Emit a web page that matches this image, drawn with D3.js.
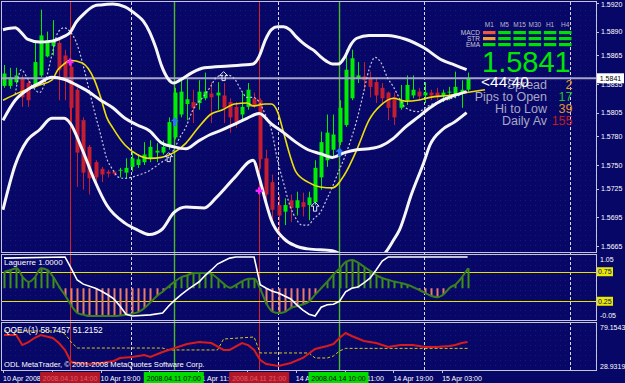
<!DOCTYPE html>
<html>
<head>
<meta charset="utf-8">
<script src="https://cdn.jsdelivr.net/npm/d3@7"></script>
<style>
html, body { margin: 0; padding: 0; background: #070768; overflow: hidden; }
svg { display: block; }
text { font-family: "Liberation Sans", Arial, sans-serif; }
</style>
</head>
<body>
<svg id="chart" width="625" height="383"></svg>
<script>
// GBPUSD-like H1 bars, 10 Apr 2008 03:00 .. 15 Apr 2008 07:00
const opens = [1.5833,1.5833,1.5837,1.5841,1.5836,1.5834,1.5844,1.5864,1.5875,1.5878,1.5865,1.5853,1.5829,1.5797,1.5769,1.5753,1.5746,1.5743,1.5743,1.5744,1.5742,1.5748,1.5750,1.5753,1.5757,1.5763,1.5763,1.5771,1.5779,1.5803,1.5814,1.5816,1.5815,1.5820,1.5825,1.5823,1.5823,1.5816,1.5811,1.5803,1.5811,1.5820,1.5818,1.5757,1.5732,1.5708,1.5701,1.5713,1.5705,1.5711,1.5708,1.5711,1.5737,1.5755,1.5766,1.5774,1.5792,1.5820,1.5841,1.5843,1.5841,1.5837,1.5831,1.5826,1.5821,1.5810,1.5818,1.5823,1.5827,1.5823,1.5826,1.5826,1.5823,1.5826,1.5823,1.5826,1.5829];
const highs = [1.5855,1.5852,1.5852,1.5844,1.5841,1.5878,1.5913,1.5890,1.5902,1.5883,1.5871,1.5860,1.5831,1.5800,1.5771,1.5755,1.5748,1.5745,1.5744,1.5747,1.5757,1.5764,1.5761,1.5774,1.5776,1.5773,1.5776,1.5800,1.5831,1.5842,1.5841,1.5829,1.5839,1.5847,1.5837,1.5837,1.5836,1.5820,1.5816,1.5826,1.5836,1.5826,1.5820,1.5766,1.5740,1.5719,1.5715,1.5719,1.5722,1.5721,1.5722,1.5755,1.5785,1.5803,1.5803,1.5818,1.5871,1.5871,1.5858,1.5858,1.5848,1.5842,1.5836,1.5827,1.5826,1.5834,1.5844,1.5844,1.5831,1.5837,1.5829,1.5831,1.5829,1.5832,1.5848,1.5839,1.5847];
const lows = [1.5831,1.5830,1.5835,1.5811,1.5811,1.5831,1.5842,1.5863,1.5865,1.5818,1.5818,1.5792,1.5727,1.5724,1.5719,1.5727,1.5732,1.5737,1.5739,1.5737,1.5736,1.5743,1.5747,1.5750,1.5753,1.5753,1.5761,1.5766,1.5777,1.5800,1.5797,1.5794,1.5808,1.5818,1.5794,1.5808,1.5794,1.5784,1.5789,1.5797,1.5808,1.5810,1.5746,1.5708,1.5690,1.5673,1.5687,1.5690,1.5697,1.5696,1.5692,1.5708,1.5724,1.5748,1.5758,1.5771,1.5790,1.5818,1.5836,1.5829,1.5821,1.5815,1.5813,1.5797,1.5792,1.5808,1.5813,1.5820,1.5818,1.5815,1.5818,1.5818,1.5816,1.5818,1.5820,1.5810,1.5827];
const closes = [1.5846,1.5842,1.5844,1.5821,1.5818,1.5858,1.5886,1.5881,1.5879,1.5850,1.5842,1.5810,1.5763,1.5742,1.5736,1.5737,1.5740,1.5741,1.5741,1.5745,1.5747,1.5757,1.5756,1.5761,1.5769,1.5765,1.5769,1.5795,1.5826,1.5827,1.5819,1.5810,1.5827,1.5827,1.5821,1.5826,1.5810,1.5800,1.5795,1.5811,1.5829,1.5813,1.5756,1.5719,1.5703,1.5697,1.5708,1.5705,1.5713,1.5706,1.5716,1.5747,1.5774,1.5784,1.5782,1.5810,1.5850,1.5862,1.5844,1.5839,1.5832,1.5823,1.5820,1.5810,1.5800,1.5818,1.5834,1.5829,1.5822,1.5826,1.5823,1.5822,1.5826,1.5827,1.5832,1.5829,1.5841];

// indicator lines: [bar index, value]
const upperBand = [[0,1.5892],[2,1.5894],[3,1.5889],[4,1.5882],[6,1.5879],[8,1.5880],[10,1.5885],[11,1.5889],[12,1.5900],[13,1.5907],[15,1.5917],[16,1.5918],[18,1.5919],[20,1.5916],[22,1.5907],[23,1.5901],[24,1.5890],[25,1.5874],[26,1.5854],[27,1.5841],[28,1.5836],[29,1.5839],[31,1.5847],[33,1.5852],[37,1.5854],[41,1.5856],[42,1.5864],[43,1.5881],[44,1.5892],[45,1.5895],[46,1.5895],[47,1.5892],[48,1.5885],[49,1.5879],[50,1.5874],[51,1.5870],[52,1.5864],[53,1.5859],[54,1.5856],[55,1.5856],[56,1.5863],[57,1.5876],[58,1.5883],[60,1.5886],[63,1.5886],[66,1.5882],[69,1.5873],[72,1.5860],[74,1.5855],[76,1.5850]];
const middleBand = [[0,1.5797],[2,1.5818],[4,1.5829],[6,1.5836],[8,1.5842],[10,1.5840],[12,1.5834],[14,1.5827],[16,1.5818],[18,1.5810],[20,1.5799],[22,1.5792],[24,1.5786],[26,1.5773],[28,1.5769],[30,1.5767],[32,1.5775],[34,1.5782],[36,1.5787],[38,1.5793],[40,1.5799],[42,1.5804],[44,1.5793],[46,1.5784],[48,1.5774],[50,1.5766],[52,1.5762],[54,1.5758],[56,1.5763],[58,1.5766],[60,1.5767],[62,1.5770],[64,1.5778],[66,1.5790],[68,1.5800],[70,1.5810],[72,1.5818],[74,1.5823],[76,1.5827]];
const lowerBand = [[0,1.5703],[2,1.5750],[4,1.5776],[6,1.5787],[8,1.5799],[10,1.5799],[11,1.5794],[13,1.5766],[15,1.5734],[17,1.5708],[20,1.5689],[22,1.5682],[24,1.5677],[26,1.5682],[28,1.5700],[30,1.5706],[33,1.5705],[35,1.5716],[38,1.5737],[41,1.5755],[42,1.5737],[43,1.5713],[44,1.5692],[46,1.5673],[48,1.5665],[50,1.5662],[54,1.5660],[58,1.5649],[62,1.5654],[64,1.5671],[65,1.5682],[67,1.5720],[69,1.5753],[70,1.5771],[72,1.5787],[74,1.5795],[76,1.5805]];
const maLine = [[0,1.5818],[3,1.5827],[6,1.5834],[8,1.5839],[9,1.5850],[10,1.5856],[11,1.5860],[13,1.5857],[15,1.5839],[16,1.5821],[17,1.5800],[18,1.5789],[20,1.5771],[22,1.5761],[24,1.5757],[26,1.5758],[28,1.5763],[30,1.5773],[32,1.5789],[34,1.5803],[36,1.5808],[38,1.5814],[40,1.5815],[41,1.5812],[43,1.5814],[44,1.5814],[45,1.5806],[46,1.5784],[47,1.5761],[48,1.5743],[50,1.5732],[52,1.5727],[54,1.5726],[56,1.5740],[58,1.5766],[60,1.5797],[62,1.5813],[64,1.5820],[66,1.5817],[68,1.5818],[70,1.5821],[73,1.5823],[76,1.5826],[79,1.5829]];
const dotLine = [[2,1.5824],[3,1.5850],[4,1.5841],[5,1.5831],[6,1.5826],[7,1.5839],[8,1.5865],[9,1.5889],[10,1.5894],[11,1.5890],[12,1.5879],[13,1.5858],[14,1.5832],[15,1.5806],[16,1.5782],[17,1.5757],[18,1.5745],[19,1.5737],[20,1.5736],[22,1.5739],[24,1.5744],[26,1.5753],[27,1.5757],[28,1.5766],[29,1.5779],[30,1.5790],[31,1.5806],[33,1.5823],[34,1.5832],[35,1.5842],[36,1.5844],[37,1.5844],[38,1.5840],[39,1.5829],[40,1.5821],[41,1.5821],[42,1.5816],[43,1.5803],[44,1.5787],[45,1.5755],[46,1.5731],[47,1.5708],[48,1.5694],[49,1.5687],[50,1.5687],[51,1.5694],[52,1.5700],[53,1.5713],[54,1.5727],[55,1.5743],[56,1.5758],[57,1.5776],[58,1.5797],[59,1.5823],[60,1.5850],[61,1.5863],[62,1.5857],[63,1.5842],[64,1.5832],[65,1.5820],[66,1.5810],[68,1.5806],[70,1.5813],[72,1.5817],[74,1.5821],[76,1.5827]];

const buyArrows = [[28,1.5800],[55,1.5768]];
const hollowArrows = [[27,1.5763],[36,1.5848],[51,1.5711]];
const sellMarks = [[11,1.5858],[42,1.5723]];

// Laguerre window
const lagLevels = [0.75, 0.25];
const lagBase = 0.47;
const lagSignal = [0.75,0.78,0.81,0.66,0.58,0.66,0.81,0.78,0.66,0.49,0.34,0.17,0.05,0.02,0,0,0,0,0,0.01,0.02,0.04,0.07,0.14,0.24,0.34,0.42,0.51,0.59,0.66,0.69,0.73,0.73,0.73,0.71,0.63,0.54,0.48,0.53,0.59,0.63,0.63,0.44,0.20,0.07,0.05,0.07,0.14,0.17,0.20,0.25,0.37,0.48,0.59,0.71,0.81,0.92,0.95,0.90,0.83,0.76,0.69,0.64,0.61,0.58,0.56,0.53,0.49,0.44,0.39,0.34,0.32,0.37,0.48,0.54,0.66,0.81];
const lagLine = [[0,0.98],[10,1],[11,0.81],[12,0.61],[13,0.54],[15,0.47],[16,0.42],[17,0.36],[18,0.29],[19,0.17],[20,0.03],[21,0],[24,0.02],[26,0.05],[27,0.17],[28,0.27],[29,0.36],[30,0.44],[31,0.51],[32,0.58],[33,0.69],[34,0.78],[35,0.88],[36,0.93],[37,0.98],[38,1],[41,1],[42,0.53],[43,0.47],[44,0.42],[45,0.39],[46,0.34],[47,0.29],[48,0.19],[49,0.10],[50,0.03],[51,0],[52,0.15],[53,0.19],[54,0.20],[55,0.25],[56,0.41],[57,0.47],[58,0.49],[59,0.56],[60,0.64],[61,0.78],[62,0.93],[63,1],[76,1]];
const lagTicks = ["1.05", "0.75", "0.25", "-0.05"];

// QQE window
const qqeFast = [[0,67.2],[2,67.2],[3,55.2],[4,58.8],[5,63.6],[6,67.2],[8,63.6],[9,57.6],[10,49.3],[11,34.9],[12,33.7],[14,32.5],[16,33.7],[18,36.1],[19,39.7],[21,40.9],[23,43.3],[24,40.9],[26,46.9],[28,51.6],[30,56.4],[32,58.8],[34,57.6],[36,49.3],[37,49.3],[39,57.6],[40,55.2],[41,49.3],[42,37.3],[43,32.5],[45,30.1],[47,33.7],[49,39.7],[51,50.5],[53,54.0],[54,56.4],[55,63.6],[56,69.6],[57,66.0],[59,60.0],[61,57.6],[63,52.8],[65,55.2],[67,55.2],[69,52.8],[71,52.8],[73,54.0],[74,55.2],[75,57.6],[76,58.7457]];
const qqeSlow = [[0,72.0],[9,72.0],[10,68.4],[11,58.8],[12,51.6],[26,51.6],[27,49.3],[35,49.3],[36,62.4],[41,64.8],[42,45.7],[50,45.7],[51,39.7],[53,39.7],[54,42.1],[55,48.1],[56,51.2152],[76,51.2152]];
const qqeRange = [28.9319, 79.1543];

// price scale and time scale
const priceTicks = ["1.5920","1.5890","1.5865","1.5835","1.5805","1.5780","1.5750","1.5725","1.5695","1.5665"];
const timeTickBars = [0, 8, 16, 24, 32, 40, 48, 56, 64, 72];
const timeTickLabels = ["10 Apr 2008","10 Apr 11:00","10 Apr 19:00","11 Apr 03:00","11 Apr 11:00","11 Apr 19:00","14 Apr 03:00","14 Apr 11:00","14 Apr 19:00","15 Apr 03:00"];
const dayBars = [21, 45, 69, 93];
const markerBars = [11, 28, 42, 55];
const markerSide = ["sell", "buy", "sell", "buy"];
const markerTimes = ["2008.04.10 14:00","2008.04.11 07:00","2008.04.11 21:00","2008.04.14 10:00"];

// info panel
const timeframes = ["M1","M5","M15","M30","H1","H4"];
const signalRows = ["MACD","STR","EMA"];
const signalState = [[-1,1,1,1,1,1],[0,1,1,1,1,1],[1,1,1,1,1,1]];
const timerText = "<44:40";
const infoLabels = ["Spread","Pips to Open","Hi to Low","Daily Av"];
const infoValues = [2, 17, 39, 155];

const bgColor = "#070768", frameColor = "#c4c4d4", bull = "#00ee00", bear = "#c41e30";

const svg = d3.select("#chart");
const defs = svg.append("defs");
const pat = defs.append("pattern").attr("id", "dots").attr("width", 5).attr("height", 5).attr("patternUnits", "userSpaceOnUse");
pat.append("rect").attr("width", 1).attr("height", 1).attr("fill", "#3c1c78");

svg.append("rect").attr("width", 625).attr("height", 383).attr("fill", bgColor);
svg.append("rect").attr("x", 2).attr("y", 2).attr("width", 594).attr("height", 368).attr("fill", "url(#dots)").attr("opacity", 0.55);

const panes = { main: [2, 252], lag: [255, 320], qqe: [323, 370] };
Object.entries(panes).forEach(([id, [y0, y1]]) => {
	defs.append("clipPath").attr("id", "clip-" + id)
		.append("rect").attr("x", 2).attr("y", y0).attr("width", 594).attr("height", y1 - y0);
});

const x = d3.scaleLinear().domain([0, 76]).range([3, 466.6]);
const yMain = d3.scaleLinear().domain([1.5665, 1.5920]).range([246, 3]);
const yLag = d3.scaleLinear().domain([-0.05, 1.05]).range([319, 254]);
const yQqe = d3.scaleLinear().domain(qqeRange).range([367, 325]);

// day grid
svg.append("g").selectAll("line").data(dayBars).join("line")
	.attr("x1", d => Math.round(x(d)) + 0.5).attr("x2", d => Math.round(x(d)) + 0.5)
	.attr("y1", 2).attr("y2", 370)
	.attr("stroke", "#d8d8e8").attr("stroke-dasharray", "3,2").attr("stroke-width", 1);

// event markers
svg.append("g").selectAll("line").data(markerBars).join("line")
	.attr("x1", d => Math.round(x(d)) + 0.5).attr("x2", d => Math.round(x(d)) + 0.5)
	.attr("y1", 2).attr("y2", 370)
	.attr("stroke", (d, i) => markerSide[i] === "sell" ? "#d82020" : "#4cb828")
	.attr("stroke-width", (d, i) => markerSide[i] === "sell" ? 1 : 1.4);

// ---------- main window ----------
const main = svg.append("g").attr("clip-path", "url(#clip-main)");
const bars = opens.map((o, i) => ({ i, o, h: highs[i], l: lows[i], c: closes[i], up: closes[i] >= o }));

main.append("g").selectAll("line").data(bars).join("line")
	.attr("x1", d => Math.round(x(d.i)) + 1.5).attr("x2", d => Math.round(x(d.i)) + 1.5)
	.attr("y1", d => yMain(d.h)).attr("y2", d => yMain(d.l))
	.attr("stroke", d => d.up ? bull : bear).attr("stroke-width", 1);

main.append("g").selectAll("rect").data(bars).join("rect")
	.attr("x", d => Math.round(x(d.i)) - 0.5)
	.attr("width", 4)
	.attr("y", d => yMain(Math.max(d.o, d.c)))
	.attr("height", d => Math.max(1, Math.abs(yMain(d.o) - yMain(d.c))))
	.attr("fill", d => d.up ? bull : bear);

const lastClose = closes[closes.length - 1];
main.append("line")
	.attr("x1", 2).attr("x2", 596)
	.attr("y1", yMain(lastClose)).attr("y2", yMain(lastClose))
	.attr("stroke", "#a4a4c8").attr("stroke-width", 2);

const priceLine = d3.line().x(d => x(d[0])).y(d => yMain(d[1])).curve(d3.curveMonotoneX);

main.append("path").datum(dotLine).attr("d", priceLine)
	.attr("fill", "none").attr("stroke", "#c4c4e0").attr("stroke-width", 1.2).attr("stroke-dasharray", "2,2");

main.append("path").datum(maLine).attr("d", priceLine)
	.attr("fill", "none").attr("stroke", "#ecdf0a").attr("stroke-width", 1.6);

[upperBand, middleBand, lowerBand].forEach(band => {
	main.append("path").datum(band).attr("d", priceLine)
		.attr("fill", "none").attr("stroke", "#f6f6f6").attr("stroke-width", 3).attr("stroke-linejoin", "round");
});

const arrowPath = "M0,0 L4,4 L1.6,4 L1.6,9 L-1.6,9 L-1.6,4 L-4,4 Z";
main.append("g").selectAll("path").data(buyArrows).join("path")
	.attr("d", arrowPath)
	.attr("transform", d => `translate(${x(d[0]) + 1},${yMain(d[1])})`)
	.attr("fill", "#2a78f0");
main.append("g").selectAll("path").data(hollowArrows).join("path")
	.attr("d", arrowPath)
	.attr("transform", d => `translate(${x(d[0]) + 1},${yMain(d[1])})`)
	.attr("fill", "none").attr("stroke", "#e4e4f0").attr("stroke-width", 1);
main.append("g").selectAll("path").data(sellMarks).join("path")
	.attr("d", d3.symbol(d3.symbolCross, 28))
	.attr("transform", d => `translate(${x(d[0])},${yMain(d[1])})`)
	.attr("fill", "#ff20ff");

// info panel
const colBand = d3.scaleBand().domain(timeframes).range([483, 571.5]).paddingInner(0.18);
const rowBand = d3.scaleBand().domain(signalRows).range([31, 46.2]).paddingInner(0.467);
const stateColor = s => s < 0 ? "#f05a3c" : s === 0 ? "#f0a030" : "#00e000";

svg.append("g").selectAll("text").data(timeframes).join("text")
	.attr("x", d => colBand(d) + colBand.bandwidth() / 2).attr("y", 27)
	.attr("text-anchor", "middle").attr("font-size", 6.5).attr("fill", "#b8b8cc").text(d => d);
svg.append("g").selectAll("text").data(signalRows).join("text")
	.attr("x", 480).attr("y", d => rowBand(d) + 4)
	.attr("text-anchor", "end").attr("font-size", 6.5).attr("fill", "#c8c8d8").text(d => d);
const cells = [];
signalState.forEach((row, r) => row.forEach((s, c) => cells.push({ r, c, s })));
svg.append("g").selectAll("rect").data(cells).join("rect")
	.attr("x", d => colBand(timeframes[d.c])).attr("y", d => rowBand(signalRows[d.r]))
	.attr("width", colBand.bandwidth()).attr("height", rowBand.bandwidth())
	.attr("fill", d => stateColor(d.s));

svg.append("text").attr("x", 482).attr("y", 72).attr("font-size", 29).attr("fill", "#00e600")
	.text(lastClose.toFixed(4));

const infoColors = ["#e0a020", "#22c022", "#e09428", "#c01c1c"];
const infoY = [88.5, 101, 112.8, 124.5];
svg.append("g").selectAll("text").data(infoLabels).join("text")
	.attr("x", 547).attr("y", (d, i) => infoY[i]).attr("text-anchor", "end")
	.attr("font-size", 12.5).attr("fill", "#a8a8c4").text(d => d);
svg.append("g").selectAll("text").data(infoValues).join("text")
	.attr("x", 572.5).attr("y", (d, i) => infoY[i]).attr("text-anchor", "end")
	.attr("font-size", 12.5).attr("fill", (d, i) => infoColors[i]).text(d => d);
svg.append("text").attr("x", 481).attr("y", 87).attr("font-size", 15.5).attr("fill", "#ffffff").text(timerText);

// ---------- Laguerre window ----------
const lag = svg.append("g").attr("clip-path", "url(#clip-lag)");
lag.append("g").selectAll("line").data(lagLevels).join("line")
	.attr("x1", 2).attr("x2", 596).attr("y1", d => Math.round(yLag(d)) + 0.5).attr("y2", d => Math.round(yLag(d)) + 0.5)
	.attr("stroke", "#e4e400").attr("stroke-width", 1);
lag.append("g").selectAll("line").data(lagSignal).join("line")
	.attr("x1", (d, i) => Math.round(x(i)) + 1.5).attr("x2", (d, i) => Math.round(x(i)) + 1.5)
	.attr("y1", yLag(lagBase)).attr("y2", d => yLag(d))
	.attr("stroke", d => d >= lagBase ? "#3f9212" : "#e67c6a").attr("stroke-width", 2);
lag.append("path").datum(lagSignal)
	.attr("d", d3.line().x((d, i) => x(i) + 1.5).y(d => yLag(d)).curve(d3.curveMonotoneX))
	.attr("fill", "none").attr("stroke", "#3a8020").attr("stroke-width", 2);
lag.append("path").datum(lagLine)
	.attr("d", d3.line().x(d => x(d[0]) + 1).y(d => yLag(d[1])))
	.attr("fill", "none").attr("stroke", "#ffffff").attr("stroke-width", 1.6);

// ---------- QQE window ----------
const qqe = svg.append("g").attr("clip-path", "url(#clip-qqe)");
const qqeLine = d3.line().x(d => x(d[0]) + 1).y(d => yQqe(d[1]));
qqe.append("path").datum(qqeSlow).attr("d", qqeLine)
	.attr("fill", "none").attr("stroke", "#d8c818").attr("stroke-width", 1).attr("stroke-dasharray", "3,2");
qqe.append("path").datum(qqeFast).attr("d", qqeLine)
	.attr("fill", "none").attr("stroke", "#d81c1c").attr("stroke-width", 2);

// window titles
svg.append("text").attr("x", 4).attr("y", 265).attr("font-size", 8).attr("fill", "#ffffff").text("Laguerre 1.0000");
svg.append("text").attr("x", 4).attr("y", 333).attr("font-size", 8.3).attr("fill", "#ffffff")
	.text(`QQEA(1) ${qqeFast[qqeFast.length - 1][1].toFixed(4)} ${qqeSlow[qqeSlow.length - 1][1].toFixed(4)}`);
svg.append("text").attr("x", 4).attr("y", 366.5).attr("font-size", 7.6).attr("fill", "#ffffff")
	.text("ODL MetaTrader, \u00a9 2001-2008 MetaQuotes Software Corp.");

// frames
Object.values(panes).forEach(([y0, y1]) => {
	svg.append("rect").attr("x", 1.5).attr("y", y0 - 0.5).attr("width", 595).attr("height", y1 - y0 + 1)
		.attr("fill", "none").attr("stroke", frameColor).attr("stroke-width", 1);
});

// ---------- right price axis ----------
const axisG = svg.append("g").attr("font-size", 7).attr("fill", "#ffffff");
axisG.selectAll("line.pt").data(priceTicks).join("line").attr("class", "pt")
	.attr("x1", 596).attr("x2", 599).attr("y1", d => Math.round(yMain(+d)) + 0.5).attr("y2", d => Math.round(yMain(+d)) + 0.5)
	.attr("stroke", frameColor);
axisG.selectAll("text.pt").data(priceTicks).join("text").attr("class", "pt")
	.attr("x", 601).attr("y", d => Math.max(7, yMain(+d) + 2.5)).text(d => d);

axisG.append("rect").attr("x", 597).attr("y", yMain(lastClose) - 5).attr("width", 27).attr("height", 10).attr("fill", "#ffffff");
axisG.append("text").attr("x", 610.5).attr("y", yMain(lastClose) + 2.5).attr("text-anchor", "middle").attr("fill", "#000000")
	.text(lastClose.toFixed(4));

const lagTop = panes.lag[0], lagBottom = panes.lag[1];
lagTicks.forEach(t => {
	const v = +t;
	const ty = Math.min(lagBottom - 2.5, Math.max(lagTop + 6.5, yLag(v) + 2.5));
	if (lagLevels.includes(v)) {
		axisG.append("rect").attr("x", 597).attr("y", ty - 7).attr("width", 16).attr("height", 9).attr("fill", "#e8e800");
		axisG.append("text").attr("x", 598).attr("y", ty).attr("fill", "#070768").text(t);
	} else {
		axisG.append("text").attr("x", 600).attr("y", ty).text(t);
	}
});
axisG.append("text").attr("x", 600).attr("y", 330).text(qqeRange[1].toFixed(4));
axisG.append("text").attr("x", 600).attr("y", 368.5).text(qqeRange[0].toFixed(4));

// ---------- time axis ----------
const boxHalf = 30;
const boxSpans = markerBars.map(b => [x(b) - boxHalf, x(b) + boxHalf]);
axisG.selectAll("line.tt").data(timeTickBars).join("line").attr("class", "tt")
	.attr("x1", d => Math.round(x(d)) + 0.5).attr("x2", d => Math.round(x(d)) + 0.5)
	.attr("y1", 370).attr("y2", 373).attr("stroke", frameColor);
const tickText = axisG.selectAll("text.tt").data(timeTickBars).join("text").attr("class", "tt")
	.attr("x", d => x(d)).attr("y", 381).text((d, i) => timeTickLabels[i]);
// labels fully hidden under a marker box are not shown in MetaTrader either
tickText.each(function (d) {
	const x0 = x(d), x1 = x0 + this.getComputedTextLength();
	if (boxSpans.some(([a, b]) => x0 >= a && x1 <= b)) d3.select(this).remove();
});

const mk = axisG.append("g").selectAll("g").data(markerBars).join("g")
	.attr("transform", d => `translate(${x(d)},0)`);
mk.append("rect").attr("x", -boxHalf).attr("y", 372).attr("width", boxHalf * 2).attr("height", 11)
	.attr("fill", (d, i) => markerSide[i] === "sell" ? "#b01828" : "#00dc00");
mk.append("text").attr("x", 0).attr("y", 380.5).attr("text-anchor", "middle")
	.attr("fill", (d, i) => markerSide[i] === "sell" ? "#e8586a" : "#000000")
	.text((d, i) => markerTimes[i]);
</script>
</body>
</html>
